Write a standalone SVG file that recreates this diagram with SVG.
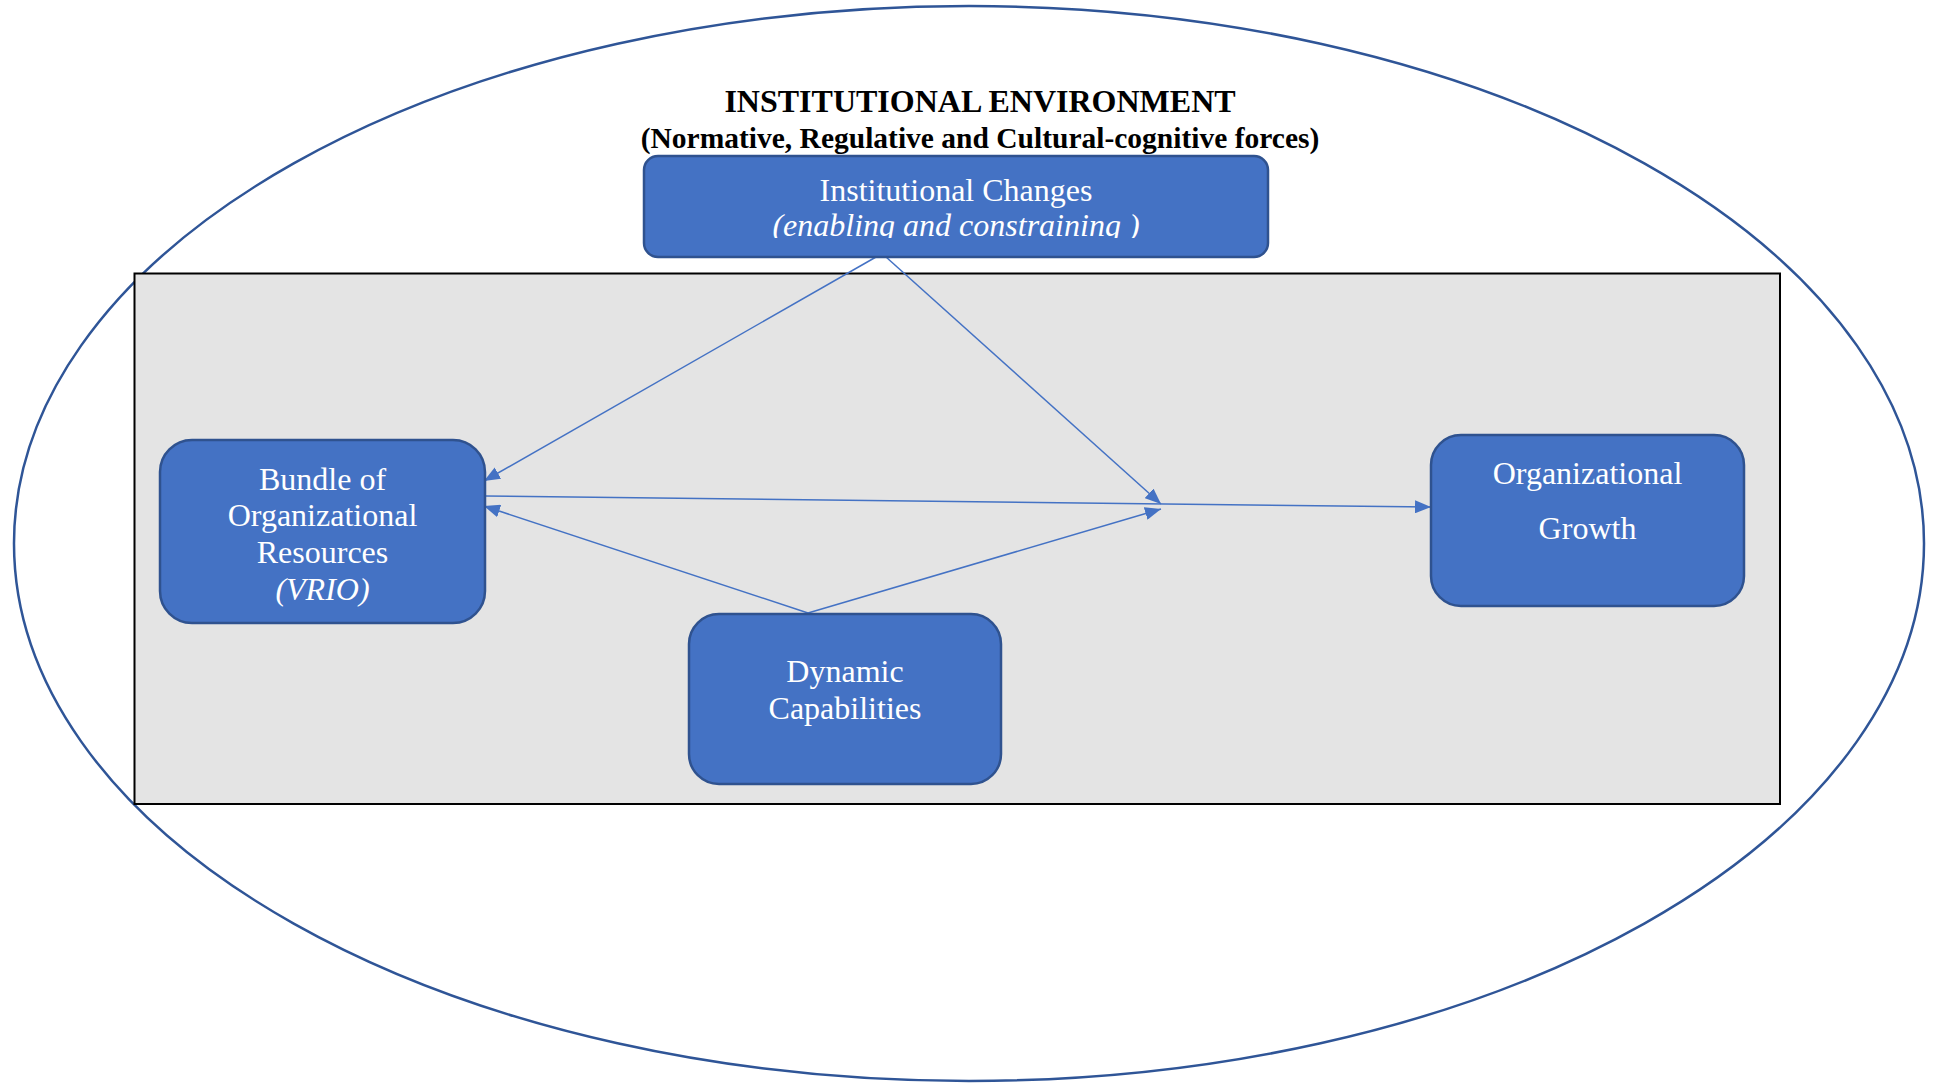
<svg xmlns="http://www.w3.org/2000/svg" width="1933" height="1084" viewBox="0 0 1933 1084">
<style>
.box{fill:#4472C4;stroke:#2F528F;stroke-width:2.5}
.t{font-family:"Liberation Serif","Times New Roman",serif;font-size:32px;fill:#FFFFFF;text-anchor:middle}
.it{font-style:italic}
.h{font-family:"Liberation Serif","Times New Roman",serif;font-weight:bold;fill:#000000;text-anchor:middle}
.c{fill:none;stroke:#4472C4;stroke-width:1.5}
</style>
<defs>
<marker id="ah" viewBox="0 0 16 13" refX="16" refY="6.5" markerWidth="16" markerHeight="13" markerUnits="userSpaceOnUse" orient="auto">
<path d="M0,0 L16,6.5 L0,13 Z" fill="#4472C4"/>
</marker>
<clipPath id="clipIC"><rect x="644" y="156" width="624" height="82"/></clipPath>
</defs>
<rect x="0" y="0" width="1933" height="1084" fill="#FFFFFF"/>
<g id="environment">
<ellipse cx="969" cy="543.5" rx="955" ry="537.5" fill="none" stroke="#2F5597" stroke-width="2.5"/>
<text class="h" x="980" y="112" font-size="32">INSTITUTIONAL ENVIRONMENT</text>
<text class="h" x="980" y="148" font-size="29.5">(Normative, Regulative and Cultural-cognitive forces)</text>
</g>
<g id="firm-area">
<rect x="134.5" y="273.5" width="1645.5" height="530.5" fill="#E4E4E4" stroke="#000000" stroke-width="2"/>
</g>
<g id="connectors">
<line class="c" x1="876" y1="257" x2="484" y2="481" marker-end="url(#ah)"/>
<line class="c" x1="886" y1="257" x2="1161" y2="504" marker-end="url(#ah)"/>
<line class="c" x1="485" y1="496" x2="1431" y2="507" marker-end="url(#ah)"/>
<line class="c" x1="808" y1="613" x2="484" y2="506" marker-end="url(#ah)"/>
<line class="c" x1="808" y1="613" x2="1161" y2="509" marker-end="url(#ah)"/>
</g>
<g id="institutional-changes">
<rect class="box" x="644" y="156" width="624" height="101" rx="14"/>
<text class="t" x="956" y="201">Institutional Changes</text>
<text class="t it" x="956" y="236" clip-path="url(#clipIC)">(enabling and constraining )</text>
</g>
<g id="bundle-resources">
<rect class="box" x="160" y="440" width="325" height="183" rx="32"/>
<text class="t" x="322.5" y="490">Bundle of</text>
<text class="t" x="322.5" y="526">Organizational</text>
<text class="t" x="322.5" y="563">Resources</text>
<text class="t it" x="322.5" y="600">(VRIO)</text>
</g>
<g id="organizational-growth">
<rect class="box" x="1431" y="435" width="313" height="171" rx="30"/>
<text class="t" x="1587.5" y="484">Organizational</text>
<text class="t" x="1587.5" y="539">Growth</text>
</g>
<g id="dynamic-capabilities">
<rect class="box" x="689" y="614" width="312" height="170" rx="30"/>
<text class="t" x="845" y="682">Dynamic</text>
<text class="t" x="845" y="719">Capabilities</text>
</g>
</svg>
